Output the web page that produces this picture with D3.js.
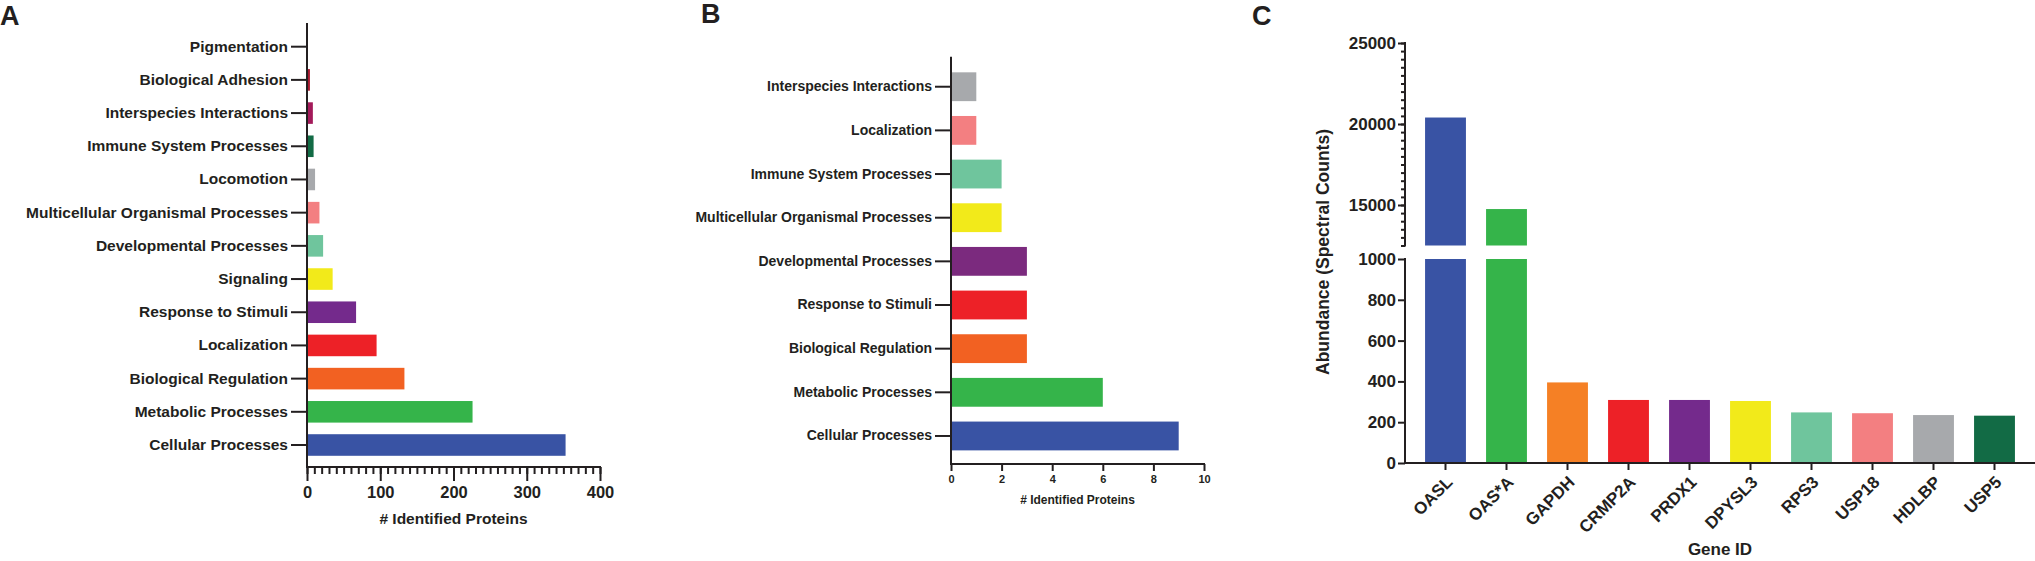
<!DOCTYPE html>
<html>
<head>
<meta charset="utf-8">
<script src="https://cdn.jsdelivr.net/npm/d3@7"></script>
<style>
  body { margin: 0; background: #fff; }
  svg text { font-family: "Liberation Sans", Arial, sans-serif; font-weight: bold; fill: #231f20; }
</style>
</head>
<body>
<div id="chart"></div>
<script>
// Panel A: GO biological process, all identified proteins
const catA = ["Pigmentation", "Biological Adhesion", "Interspecies Interactions", "Immune System Processes",
    "Locomotion", "Multicellular Organismal Processes", "Developmental Processes", "Signaling",
    "Response to Stimuli", "Localization", "Biological Regulation", "Metabolic Processes", "Cellular Processes"];
const valA = [0, 4, 8, 9, 11, 17, 22, 35, 67, 95, 133, 226, 353];
const colA = ["#cccccc", "#a8192f", "#a31a5a", "#126b45", "#a7a9ac", "#f37f81", "#6fc59d", "#f2ea1a",
    "#742a8c", "#ed2127", "#f26122", "#35b44a", "#3953a4"];
const ticksA = [0, 100, 200, 300, 400];

// Panel B
const catB = ["Interspecies Interactions", "Localization", "Immune System Processes",
    "Multicellular Organismal Processes", "Developmental Processes", "Response to Stimuli",
    "Biological Regulation", "Metabolic Processes", "Cellular Processes"];
const valB = [1, 1, 2, 2, 3, 3, 3, 6, 9];
const colB = ["#a7a9ac", "#f37f81", "#6fc59d", "#f2ea1a", "#7b2a7e", "#ed2127", "#f26122", "#35b44a", "#3953a4"];
const ticksB = [0, 2, 4, 6, 8, 10];

// Panel C: most abundant proteins
const genes = ["OASL", "OAS*A", "GAPDH", "CRMP2A", "PRDX1", "DPYSL3", "RPS3", "USP18", "HDLBP", "USP5"];
const abund = [20400, 14750, 395, 309, 309, 304, 248, 244, 235, 232];
const colC = ["#3953a4", "#35b44a", "#f58025", "#ed2127", "#742a8c", "#f2ea1a", "#6fc59d", "#f37f81", "#a7a9ac", "#126b45"];
const ticksCLow = [0, 200, 400, 600, 800, 1000];
const ticksCHigh = [15000, 20000, 25000];

const W = 2035, H = 561;
const svg = d3.select("#chart").append("svg")
    .attr("width", W)
    .attr("height", H);

function styleAxis(g) {
    g.selectAll("path, line").attr("stroke", "#231f20").attr("stroke-width", 2);
    g.select(".domain").remove();
}

function hLine(x1, x2, y) {
    svg.append("line").attr("x1", x1).attr("x2", x2).attr("y1", y).attr("y2", y)
        .attr("stroke", "#231f20").attr("stroke-width", 2);
}
function vLine(x, y1, y2) {
    svg.append("line").attr("x1", x).attr("x2", x).attr("y1", y1).attr("y2", y2)
        .attr("stroke", "#231f20").attr("stroke-width", 2);
}

// panel letters
[["A", 0, 25], ["B", 701, 23], ["C", 1252, 25]].forEach(([t, x, y]) => {
    svg.append("text").attr("x", x).attr("y", y).attr("font-size", "27px").text(t);
});

// ---------- Panel A ----------
{
    const x0 = 307, bottom = 467;
    const x = d3.scaleLinear().domain([0, 400]).range([x0, 600]);
    const y = d3.scaleBand().domain(catA).range([30.1, 461.6])
        .paddingInner(0.35).paddingOuter(0.175);

    svg.append("g").selectAll("rect").data(catA).join("rect")
        .attr("x", x(0) + 1)
        .attr("y", d => y(d))
        .attr("width", (d, i) => Math.max(0, x(valA[i]) - x(0) - 1))
        .attr("height", y.bandwidth())
        .attr("fill", (d, i) => colA[i]);

    const gy = svg.append("g").attr("transform", `translate(${x0},0)`)
        .call(d3.axisLeft(y).tickSize(16).tickPadding(3));
    styleAxis(gy);
    gy.selectAll("text").attr("font-size", "15.5px").attr("fill", "#231f20");

    // minor ticks every 10
    const gm = svg.append("g").attr("transform", `translate(0,${bottom})`)
        .call(d3.axisBottom(x).tickValues(d3.range(0, 401, 10)).tickSize(7).tickFormat(""));
    styleAxis(gm);
    const gx = svg.append("g").attr("transform", `translate(0,${bottom})`)
        .call(d3.axisBottom(x).tickValues(ticksA).tickSize(14).tickPadding(5));
    styleAxis(gx);
    gx.selectAll("text").attr("font-size", "16.5px").attr("fill", "#231f20");

    vLine(x0, 23, bottom + 1);
    hLine(x0 - 1, 600 + 1, bottom);

    svg.append("text").attr("x", (x0 + 600) / 2).attr("y", 524)
        .attr("text-anchor", "middle").attr("font-size", "15.5px")
        .text("# Identified Proteins");
}

// ---------- Panel B ----------
{
    const x0 = 951, bottom = 464;
    const x = d3.scaleLinear().domain([0, 10]).range([x0, 1204]);
    const y = d3.scaleBand().domain(catB).range([64.9, 457.8])
        .paddingInner(0.34).paddingOuter(0.17);

    svg.append("g").selectAll("rect").data(catB).join("rect")
        .attr("x", x(0) + 1)
        .attr("y", d => y(d))
        .attr("width", (d, i) => x(valB[i]) - x(0) - 1)
        .attr("height", y.bandwidth())
        .attr("fill", (d, i) => colB[i]);

    const gy = svg.append("g").attr("transform", `translate(${x0},0)`)
        .call(d3.axisLeft(y).tickSize(16).tickPadding(3));
    styleAxis(gy);
    gy.selectAll("text").attr("font-size", "14px").attr("fill", "#231f20");

    const gx = svg.append("g").attr("transform", `translate(0,${bottom})`)
        .call(d3.axisBottom(x).tickValues(ticksB).tickSize(7).tickPadding(4));
    styleAxis(gx);
    gx.selectAll("text").attr("font-size", "11px").attr("font-weight", "normal").attr("fill", "#231f20");

    vLine(x0, 56.7, bottom + 1);
    hLine(x0 - 1, 1204 + 1, bottom);

    svg.append("text").attr("x", (x0 + 1204) / 2).attr("y", 504)
        .attr("text-anchor", "middle").attr("font-size", "12px")
        .text("# Identified Proteins");
}

// ---------- Panel C (broken y axis) ----------
{
    const x0 = 1405, bottom = 463;
    const x = d3.scaleBand().domain(genes).range([1415, 2025])
        .paddingInner(0.33).paddingOuter(0.165);
    const yLow = d3.scaleLinear().domain([0, 1000]).range([bottom, 259]);
    const yHigh = d3.scaleLinear().domain([12500, 25000]).range([245.5, 43]);

    // lower segment of every bar
    svg.append("g").selectAll("rect").data(genes).join("rect")
        .attr("x", d => x(d))
        .attr("y", (d, i) => yLow(Math.min(abund[i], 1000)))
        .attr("width", x.bandwidth())
        .attr("height", (d, i) => yLow(0) - yLow(Math.min(abund[i], 1000)))
        .attr("fill", (d, i) => colC[i]);

    // upper segment for bars that pass the break
    const big = genes.filter((d, i) => abund[i] > 1000);
    svg.append("g").selectAll("rect").data(big).join("rect")
        .attr("x", d => x(d))
        .attr("y", d => yHigh(abund[genes.indexOf(d)]))
        .attr("width", x.bandwidth())
        .attr("height", d => yHigh(12500) - yHigh(abund[genes.indexOf(d)]))
        .attr("fill", d => colC[genes.indexOf(d)]);

    const gl = svg.append("g").attr("transform", `translate(${x0},0)`)
        .call(d3.axisLeft(yLow).tickValues(ticksCLow).tickSize(7).tickPadding(2).tickFormat(d3.format("d")));
    styleAxis(gl);
    gl.selectAll("text").attr("font-size", "17px").attr("fill", "#231f20");

    const ghm = svg.append("g").attr("transform", `translate(${x0},0)`)
        .call(d3.axisLeft(yHigh).tickValues(d3.range(12500, 25001, 500)).tickSize(4).tickFormat(""));
    styleAxis(ghm);
    const gh = svg.append("g").attr("transform", `translate(${x0},0)`)
        .call(d3.axisLeft(yHigh).tickValues(ticksCHigh).tickSize(7).tickPadding(2).tickFormat(d3.format("d")));
    styleAxis(gh);
    gh.selectAll("text").attr("font-size", "17px").attr("fill", "#231f20");

    vLine(x0, yHigh(25000) - 1, yHigh(12500) + 1);
    vLine(x0, yLow(1000) - 1, bottom + 1);
    hLine(x0 - 1, W, bottom);

    const gx = svg.append("g").attr("transform", `translate(0,${bottom})`)
        .call(d3.axisBottom(x).tickSize(7).tickFormat(""));
    styleAxis(gx);
    gx.selectAll(".tick").append("text")
        .attr("transform", "translate(4,16) rotate(-45)")
        .attr("text-anchor", "end")
        .attr("dy", "0.35em")
        .attr("font-size", "17px")
        .text(d => d);

    svg.append("text")
        .attr("transform", `translate(1329,252) rotate(-90)`)
        .attr("text-anchor", "middle").attr("font-size", "17.5px")
        .text("Abundance (Spectral Counts)");

    svg.append("text").attr("x", (x0 + W) / 2).attr("y", 555)
        .attr("text-anchor", "middle").attr("font-size", "17px")
        .text("Gene ID");
}
</script>
</body>
</html>
